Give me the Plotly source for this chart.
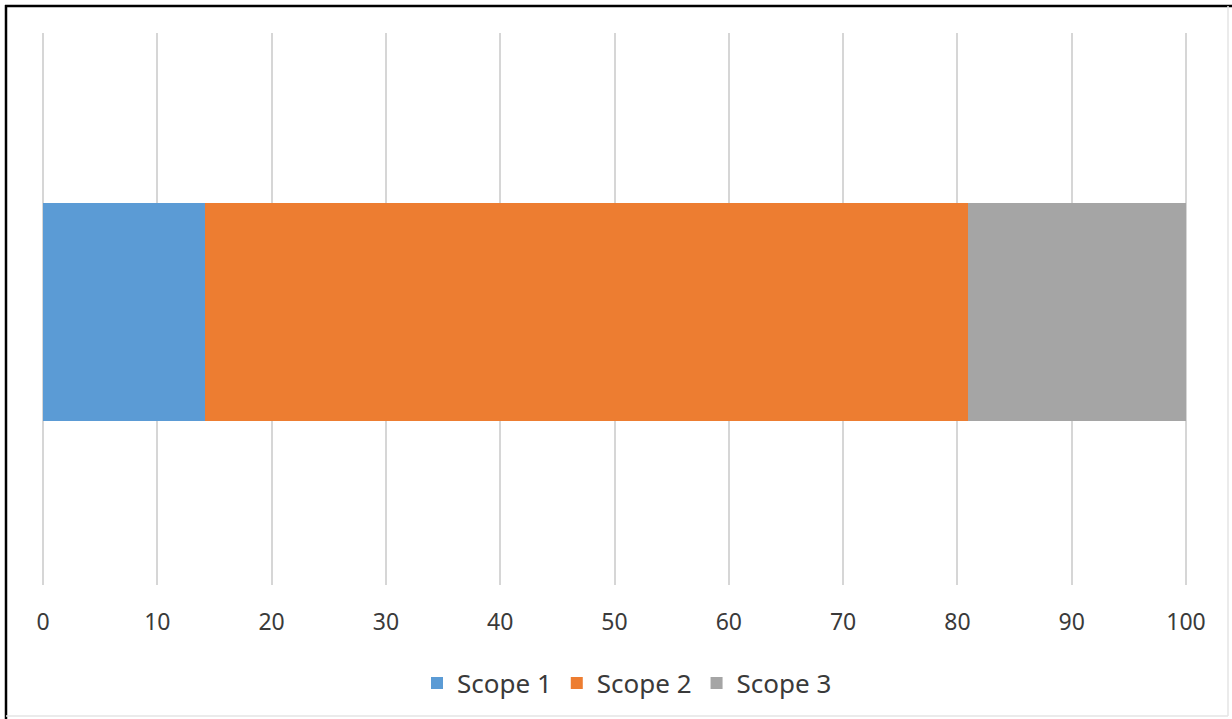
import plotly.graph_objects as go

# Share of total emissions by scope (percent)
categories = ["Total"]
series_names = ["Scope 1", "Scope 2", "Scope 3"]
scope_1 = [14.2]
scope_2 = [66.7]
scope_3 = [19.1]
series_colors = ["#5b9bd5", "#ed7d31", "#a5a5a5"]
tick_values = [0, 10, 20, 30, 40, 50, 60, 70, 80, 90, 100]
tick_labels = ["0", "10", "20", "30", "40", "50", "60", "70", "80", "90", "100"]

W, H = 1232, 719
L, R, T, B = 39, 42, 33, 134
plot_w = W - L - R
plot_h = H - T - B


def px_x(px):
    return (px - L) / plot_w


def px_y(py):
    return (H - B - py) / plot_h


fig = go.Figure()
for name, vals, color in zip(series_names, [scope_1, scope_2, scope_3], series_colors):
    fig.add_trace(go.Bar(
        y=categories, x=vals, name=name, orientation="h",
        marker=dict(color=color, line=dict(width=0)),
        width=0.395,
    ))

font_family = "Noto Sans, Open Sans, sans-serif"
text_color = "#3a3a3a"

fig.update_layout(
    width=W, height=H,
    barmode="stack",
    paper_bgcolor="white", plot_bgcolor="white",
    margin=dict(l=L, r=R, t=T, b=B, pad=0),
    font=dict(family=font_family, size=22, color=text_color),
    xaxis=dict(
        range=[-0.35, 100.35], tickvals=tick_values, ticktext=tick_labels,
        showgrid=True, gridcolor="#d6d6d6", gridwidth=1.5,
        zeroline=False, showline=False, ticks="",
        ticklabelstandoff=21,
        tickfont=dict(size=23, color=text_color),
        fixedrange=True,
    ),
    yaxis=dict(
        range=[-0.495, 0.505], showticklabels=False, showgrid=False,
        zeroline=False, showline=False, ticks="", fixedrange=True,
    ),
    legend=dict(
        orientation="h", x=px_x(627), xanchor="center",
        y=px_y(683), yanchor="middle",
        font=dict(size=26, color=text_color),
        itemwidth=30, tracegroupgap=0,
        traceorder="normal",
    ),
    showlegend=True,
)

# Frame around the chart: dark top/left edges, faint right/bottom edges
frame = [
    (px_x(5), px_y(6), px_x(1232), px_y(6), "#000000", 2.5),
    (px_x(6), px_y(5), px_x(6), px_y(719), "#000000", 2.5),
    (px_x(1228), px_y(6), px_x(1228), px_y(716), "#e4e4e4", 1.5),
    (px_x(6), px_y(716), px_x(1228), px_y(716), "#e4e4e4", 1.5),
]
for x0, y0, x1, y1, c, w in frame:
    fig.add_shape(type="line", xref="paper", yref="paper",
                  x0=x0, y0=y0, x1=x1, y1=y1,
                  line=dict(color=c, width=w), layer="above")

fig.write_html("out.html")
